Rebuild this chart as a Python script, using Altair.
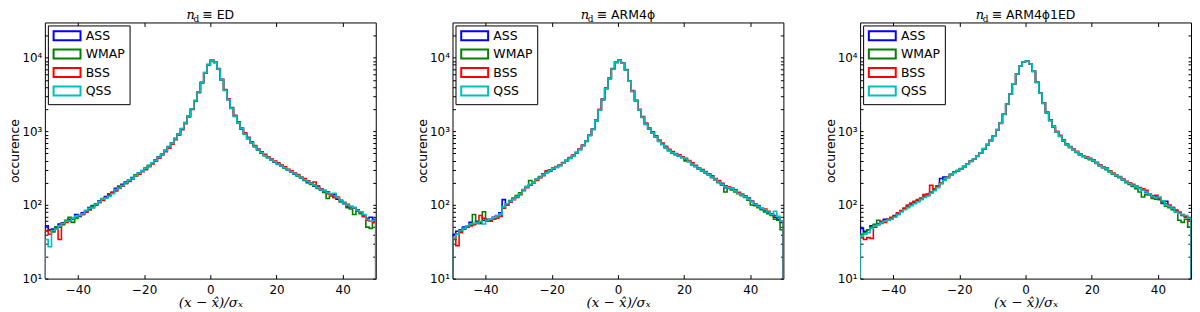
import altair as alt
import pandas as pd

# ---------------- data ----------------
edges = list(range(-50, 50))          # left edges of the 100 unit-width bins
series = ["ASS", "WMAP", "BSS", "QSS"]
colors = ["#0000ff", "#008000", "#ff0000", "#00bfbf"]
panel_names = ["ED", "ARM4ϕ", "ARM4ϕ1ED"]
x_ticks = [-40, -20, 0, 20, 40]
y_major = [10, 100, 1000, 10000]
y_minor = [20, 30, 40, 50, 60, 70, 80, 90, 200, 300, 400, 500, 600, 700, 800, 900,
           2000, 3000, 4000, 5000, 6000, 7000, 8000, 9000, 20000]

ed_ass = [52,46,47,50,55,57,60,64,66,74, 70,78,80,92,96,100,113,116,130,140,
          145,168,170,190,205,212,236,247,272,288, 318,335,372,400,450,485,550,605,700,785,
          920,1070,1310,1590,2010,2590,3420,4580,6250,8050,
          9150,8650,6950,5020,3620,2680,2060,1590,1310,1070, 925,795,705,615,565,505,475,438,412,380,
          365,335,322,298,285,262,252,232,222,200, 198,180,175,160,150,150,140,138,120,116,
          104,96,95,90,82,80,70,66,68,64]
ed_wmap = [44,45,43,50,50,54,62,68,58,66, 72,74,84,86,98,104,108,122,124,142,
           150,158,180,184,196,218,228,256,265,294, 308,345,365,410,440,495,540,620,680,800,
           900,1090,1290,1610,1990,2610,3380,4620,6180,7950,
           9250,8550,7050,4980,3580,2720,2040,1610,1290,1090, 915,805,695,625,555,515,465,442,405,388,
           355,342,315,302,278,268,245,238,215,210, 190,186,168,165,148,122,132,128,125,110,
           108,92,88,74,86,76,72,50,48,58]
ed_bss = [45,40,44,48,34,56,58,60,64,68, 72,74,80,86,92,100,108,115,126,134,
          146,155,168,180,195,208,226,245,262,282, 300,330,360,395,430,480,530,590,670,770,
          890,1050,1270,1570,1980,2560,3350,4550,6150,7950,
          9150,8650,7100,5080,3680,2760,2100,1650,1340,1110, 950,830,720,640,575,525,485,450,420,395,
          372,348,330,305,290,270,258,238,228,212, 200,205,182,165,158,142,140,125,128,112,
          108,102,94,92,82,80,70,62,60,58]
ed_qss = [34,27,45,47,52,56,60,61,66,70, 72,76,84,90,92,102,110,120,124,130,
          142,162,170,184,200,216,230,250,270,290, 314,338,372,405,445,492,545,612,690,790,
          910,1080,1300,1600,2020,2620,3420,4620,6230,8030,
          9220,8620,7020,5010,3610,2700,2050,1600,1300,1080, 918,800,698,618,560,510,470,440,408,386,
          360,338,320,300,282,266,250,236,220,207, 196,184,172,162,156,146,142,144,126,114,
          106,99,96,92,84,80,74,64,60,62]

arm_ass = [40,44,46,50,52,58,55,60,56,62, 64,64,68,72,78,118,100,110,120,128,
           142,158,178,186,205,220,236,262,274,290, 306,322,345,368,400,426,468,508,570,635,
           740,875,1065,1390,1960,2690,3820,5180,7020,8580,
           9180,8420,6780,4820,3480,2620,1940,1560,1240,1090, 955,835,740,660,605,545,515,480,460,445,
           415,395,355,338,305,295,275,262,236,226, 202,194,172,174,165,158,146,134,131,122,
           112,100,97,88,84,78,76,68,64,58]
arm_wmap = [34,40,44,47,50,54,74,56,58,81, 60,62,64,70,74,92,104,115,124,134,
            146,162,174,215,200,224,242,256,280,292, 312,328,340,372,396,432,462,512,562,645,
            730,885,1055,1405,1945,2710,3790,5210,6990,8620,
            9220,8380,6820,4780,3520,2580,1960,1540,1260,1070, 945,845,730,670,595,552,505,488,468,436,
            396,385,352,330,312,288,272,255,236,218, 202,185,150,168,160,150,142,135,126,116,
            100,98,92,86,80,76,72,64,62,46]
arm_bss = [36,28,42,48,50,52,54,58,72,66, 62,60,64,66,70,90,100,110,118,126,
           138,156,172,186,200,215,235,250,290,300, 316,332,350,375,405,440,475,520,575,650,
           745,890,1075,1420,1980,2740,3860,5260,7080,8640,
           9200,8450,6860,4860,3560,2640,1990,1590,1290,1110, 985,870,760,690,625,570,530,500,478,452,
           428,400,372,345,318,302,284,265,248,228, 215,196,182,175,170,160,148,140,132,124,
           112,104,98,90,88,82,74,72,68,60]
arm_qss = [36,40,45,48,52,55,56,57,60,55, 62,64,67,71,75,94,104,112,120,130,
           142,160,176,190,204,222,238,256,276,294, 310,326,344,368,398,430,464,510,566,640,
           736,880,1060,1400,1950,2700,3800,5200,7000,8600,
           9200,8400,6800,4800,3500,2600,1950,1550,1250,1080, 950,840,735,665,600,550,510,485,464,440,
           420,390,360,335,309,292,278,258,240,222, 205,190,176,171,167,155,143,136,129,120,
           110,102,95,90,86,80,74,82,70,60]

armed_ass = [48,44,46,52,54,56,58,64,62,66, 72,76,82,90,96,102,108,115,122,130,
             136,146,160,182,228,240,236,258,278,290, 306,332,362,392,420,462,512,580,662,752,
             862,1052,1292,1702,2352,3202,4402,6002,7702,8802,
             9000,8200,6520,4620,3310,2420,1790,1410,1150,985, 865,745,665,612,570,522,490,458,442,418,
             402,368,346,322,312,286,262,250,238,220, 206,196,180,176,168,160,148,138,132,128,
             124,105,112,94,92,84,78,72,70,64]
armed_wmap = [40,42,46,50,54,62,56,60,64,66, 70,74,82,88,96,104,110,112,124,132,
              138,150,162,176,198,222,238,260,276,294, 312,330,358,392,418,458,508,582,658,748,
              865,1048,1288,1705,2345,3195,4395,5995,7695,8795,
              9010,8190,6490,4590,3290,2390,1790,1390,1140,970, 850,740,650,600,556,516,478,450,432,410,
              392,366,338,320,300,280,262,248,234,218, 200,190,178,166,150,128,138,138,122,120,
              118,106,96,92,86,80,62,58,64,50]
armed_bss = [36,34,36,35,50,54,60,58,64,68, 70,78,84,90,100,106,112,118,120,138,
             140,185,165,180,196,218,236,256,280,290, 305,334,362,388,418,456,506,575,655,745,
             855,1045,1280,1690,2340,3190,4390,5990,7690,8790,
             8990,8210,6540,4640,3340,2440,1830,1430,1180,1000, 880,765,670,622,575,535,494,466,450,428,
             410,378,350,330,318,290,270,254,242,226, 210,200,190,180,172,165,158,140,126,135,
             120,112,104,100,92,85,80,74,68,60]
armed_qss = [38,40,42,48,52,54,57,60,62,64, 68,74,80,86,92,98,104,110,118,126,
             132,144,156,172,194,215,234,254,274,292, 308,330,358,388,420,460,510,580,660,750,
             860,1050,1290,1700,2350,3200,4400,6000,7700,8800,
             9000,8200,6500,4600,3300,2400,1800,1400,1150,980, 860,750,660,610,566,525,486,460,440,420,
             400,370,342,325,309,285,265,252,240,222, 205,195,185,176,167,158,150,140,129,125,
             128,114,100,95,90,80,77,73,72,66]

panels_data = [
    [ed_ass, ed_wmap, ed_bss, ed_qss],
    [arm_ass, arm_wmap, arm_bss, arm_qss],
    [armed_ass, armed_wmap, armed_bss, armed_qss],
]
for p in panels_data:
    for s in p:
        assert len(s) == 100, len(s)

Y_MIN, Y_MAX = 10, 30000
W, H = 332, 257


def frame(vals_by_series):
    rows = []
    for s, vals in zip(series, vals_by_series):
        rows.append({"x": edges[0], "v": Y_MIN, "s": s, "o": 0})
        for i, (e, v) in enumerate(zip(edges, vals)):
            rows.append({"x": e, "v": v, "s": s, "o": i + 1})
        rows.append({"x": edges[-1] + 1, "v": vals[-1], "s": s, "o": 101})
        rows.append({"x": edges[-1] + 1, "v": Y_MIN, "s": s, "o": 102})
    return pd.DataFrame(rows)


# approx. DejaVu Sans advance widths (em) for centring the title
cw = {"≡": 0.838, " ": 0.318, "E": 0.632, "D": 0.770, "A": 0.684, "R": 0.695,
      "M": 0.863, "4": 0.636, "ϕ": 0.65, "1": 0.636}

ylabel = ("datum.value == 10 ? '10¹' : datum.value == 100 ? '10²' : "
          "datum.value == 1000 ? '10³' : datum.value == 10000 ? '10⁴' : ''")


def xscale():
    return alt.Scale(domain=[-50, 50], nice=False, zero=False)


def yscale():
    return alt.Scale(type="log", domain=[Y_MIN, Y_MAX], nice=False)


def panel(vals_by_series, name):
    df = frame(vals_by_series)
    color = alt.Color(
        "s:N",
        scale=alt.Scale(domain=series, range=colors),
        legend=alt.Legend(
            title=None, orient="top-left", offset=3, padding=4,
            strokeColor="black", fillColor="white", cornerRadius=0,
            labelFont="DejaVu Sans", labelFontSize=12.5, labelColor="black",
            symbolType="M-1,-1H5V1H-1Z", symbolSize=81, symbolStrokeWidth=2,
            labelOffset=21.5, rowPadding=0.5, symbolFillColor="transparent",
        ),
    )
    x = alt.X("x:Q", scale=xscale(),
              axis=alt.Axis(values=x_ticks, title="(x − x̂)/σₓ",
                            titleFont="DejaVu Serif", titleFontStyle="italic",
                            titleFontWeight="normal", titleFontSize=13.5,
                            ticks=True, tickSize=4, offset=-4, tickColor="black",
                            titlePadding=0, labelPadding=6))
    y = alt.Y("v:Q", scale=yscale(),
              axis=alt.Axis(values=y_major + y_minor, labelExpr=ylabel,
                            title="occurence", titleFont="DejaVu Sans",
                            titleFontWeight="normal", titleFontSize=12.5,
                            ticks=True, tickSize=3, offset=-3, tickColor="black",
                            titlePadding=0, labelPadding=3))
    layers = []
    for s in series:
        layers.append(
            alt.Chart(df).transform_filter(alt.datum.s == s)
            .mark_line(interpolate="step-after", strokeWidth=1.6, clip=True)
            .encode(x=x, y=y, color=color, order="o:Q")
        )
    # title: n_d ≡ name
    rest = "≡ " + name
    rest_w = sum(cw.get(c, 0.65) for c in rest) * 12.5
    nd_w = 13
    total = nd_w + 3 + rest_w
    start = W / 2 - total / 2
    t_n = alt.Chart(pd.DataFrame({"t": ["n"]})).mark_text(
        font="DejaVu Serif", fontStyle="italic", fontSize=13, align="left",
        baseline="alphabetic", color="black").encode(
        text="t:N", x=alt.value(start), y=alt.value(-3))
    t_d = alt.Chart(pd.DataFrame({"t": ["d"]})).mark_text(
        font="DejaVu Serif", fontSize=9, align="left",
        baseline="alphabetic", color="black").encode(
        text="t:N", x=alt.value(start + 7), y=alt.value(0))
    t_r = alt.Chart(pd.DataFrame({"t": [rest]})).mark_text(
        font="DejaVu Sans", fontSize=12.5, align="left",
        baseline="alphabetic", color="black").encode(
        text="t:N", x=alt.value(start + nd_w + 3), y=alt.value(-3))
    inner = alt.layer(*layers, t_n, t_d, t_r)

    # inward ticks on the top and right edges (matplotlib classic frame)
    frame_ticks = alt.Chart(df).mark_point(opacity=0, size=1, clip=True).encode(
        x=alt.X("x:Q", scale=xscale(),
                axis=alt.Axis(orient="top", values=x_ticks, labels=False, title=None,
                              ticks=True, tickSize=4, offset=-4, tickColor="black",
                              minExtent=0, maxExtent=0)),
        y=alt.Y("v:Q", scale=yscale(),
                axis=alt.Axis(orient="right", values=y_major + y_minor, labels=False,
                              title=None, ticks=True, tickSize=3, offset=-3,
                              tickColor="black", minExtent=0, maxExtent=0)),
    )
    return alt.layer(inner, frame_ticks).resolve_scale(
        x="independent", y="independent").properties(width=W, height=H)


chart = alt.hconcat(
    *[panel(d, n) for d, n in zip(panels_data, panel_names)], spacing=39
).resolve_scale(color="independent").resolve_legend(color="independent").properties(
    padding={"left": 0, "top": 0, "right": 0, "bottom": 0}
).configure_view(
    stroke="black", strokeWidth=1
).configure_axis(
    domain=False, ticks=False, grid=False, labelFont="DejaVu Sans",
    labelFontSize=12, labelColor="black", titleColor="black",
)

chart.save("out.html", embed_options={"renderer": "svg", "actions": False})
